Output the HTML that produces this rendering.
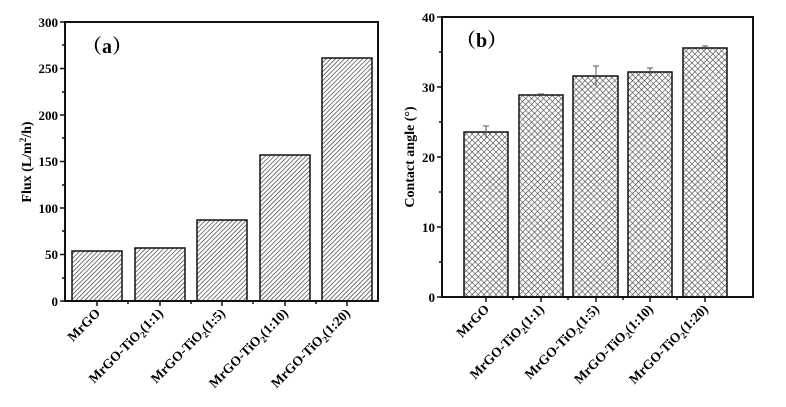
<!DOCTYPE html>
<html><head><meta charset="utf-8"><style>
html,body{margin:0;padding:0;background:#fff;}
svg{display:block;font-family:"Liberation Serif","Noto Serif CJK SC",serif;font-weight:bold;}
</style></head><body>
<svg width="786" height="407" viewBox="0 0 786 407" xmlns="http://www.w3.org/2000/svg">
<defs>
<pattern id="ha" patternUnits="userSpaceOnUse" width="3.2" height="3.2" patternTransform="rotate(45)">
<rect width="3.2" height="3.2" fill="#fff"/><line x1="0" y1="0" x2="0" y2="3.2" stroke="#333" stroke-width="1.3"/>
</pattern>
<pattern id="hb" patternUnits="userSpaceOnUse" width="4.2" height="4.2" patternTransform="rotate(45)">
<rect width="4.2" height="4.2" fill="#fff"/><line x1="0" y1="0" x2="0" y2="4.2" stroke="#444" stroke-width="1.2"/><line x1="0" y1="0" x2="4.2" y2="0" stroke="#444" stroke-width="1.2"/>
</pattern>
</defs>
<!-- Panel a -->
<g stroke="#111" stroke-width="1.5">
<rect x="72" y="251" width="50" height="50" fill="url(#ha)"/>
<rect x="135" y="248" width="50" height="53" fill="url(#ha)"/>
<rect x="197" y="220" width="50" height="81" fill="url(#ha)"/>
<rect x="260" y="155" width="50" height="146" fill="url(#ha)"/>
<rect x="322" y="58" width="50" height="243" fill="url(#ha)"/>
<rect x="65" y="22" width="313" height="279" fill="none" stroke-width="2"/>
<path d="M60 22H65M60 68.5H65M60 115H65M60 161.5H65M60 208H65M60 254.5H65M60 301H65
M62 45H65M62 92H65M62 138H65M62 185H65M62 231H65M62 278H65
M97 301V306M160 301V306M222 301V306M285 301V306M347 301V306
M128 301V304M191 301V304M253 301V304M316 301V304"/>
</g>
<g font-size="13" text-anchor="end">
<text x="58" y="27">300</text><text x="58" y="73">250</text><text x="58" y="120">200</text>
<text x="58" y="166">150</text><text x="58" y="213">100</text><text x="58" y="259">50</text><text x="58" y="306">0</text>
</g>
<text x="82" y="53" font-size="20">（a）</text>
<text transform="translate(31,162) rotate(-90)" font-size="14" text-anchor="middle">Flux (L/m<tspan font-size="9" dy="-5">2</tspan><tspan dy="5">/h)</tspan></text>
<g font-size="13.5" text-anchor="end">
<text transform="translate(101,314) rotate(-45)">MrGO</text>
<text transform="translate(164,314) rotate(-45)">MrGO-TiO<tspan font-size="9" dy="3">2</tspan><tspan dy="-3">(1:1)</tspan></text>
<text transform="translate(226,314) rotate(-45)">MrGO-TiO<tspan font-size="9" dy="3">2</tspan><tspan dy="-3">(1:5)</tspan></text>
<text transform="translate(289,314) rotate(-45)">MrGO-TiO<tspan font-size="9" dy="3">2</tspan><tspan dy="-3">(1:10)</tspan></text>
<text transform="translate(351,314) rotate(-45)">MrGO-TiO<tspan font-size="9" dy="3">2</tspan><tspan dy="-3">(1:20)</tspan></text>
</g>
<!-- Panel b -->
<g stroke="#111" stroke-width="1.5">
<rect x="464" y="132" width="44" height="165" fill="url(#hb)"/>
<rect x="519" y="95" width="44" height="202" fill="url(#hb)"/>
<rect x="573" y="76" width="45" height="221" fill="url(#hb)"/>
<rect x="628" y="72" width="44" height="225" fill="url(#hb)"/>
<rect x="683" y="48" width="44" height="249" fill="url(#hb)"/>
<rect x="442" y="17" width="311" height="280" fill="none" stroke-width="2"/>
<path d="M437 17H442M437 87H442M437 157H442M437 227H442M437 297H442
M439 52H442M439 122H442M439 192H442M439 262H442
M486 297V302M541 297V302M596 297V302M650 297V302M705 297V302
M513 297V300M568 297V300M623 297V300M677 297V300"/>
</g>
<g stroke="#555" stroke-width="1">
<path d="M486 126V138M483 126H489"/>
<path d="M541 94V96M538 94H544"/>
<path d="M596 66V86M593 66H599"/>
<path d="M650 68V76M647 68H653"/>
<path d="M705 46V50M702 46H708"/>
</g>
<g font-size="13" text-anchor="end">
<text x="435" y="22">40</text><text x="435" y="92">30</text><text x="435" y="162">20</text>
<text x="435" y="232">10</text><text x="435" y="302">0</text>
</g>
<text x="456" y="47" font-size="20">（b）</text>
<text transform="translate(414,157) rotate(-90)" font-size="14" text-anchor="middle">Contact angle (°)</text>
<g font-size="13.5" text-anchor="end">
<text transform="translate(490,310) rotate(-45)">MrGO</text>
<text transform="translate(545,310) rotate(-45)">MrGO-TiO<tspan font-size="9" dy="3">2</tspan><tspan dy="-3">(1:1)</tspan></text>
<text transform="translate(600,310) rotate(-45)">MrGO-TiO<tspan font-size="9" dy="3">2</tspan><tspan dy="-3">(1:5)</tspan></text>
<text transform="translate(654,310) rotate(-45)">MrGO-TiO<tspan font-size="9" dy="3">2</tspan><tspan dy="-3">(1:10)</tspan></text>
<text transform="translate(709,310) rotate(-45)">MrGO-TiO<tspan font-size="9" dy="3">2</tspan><tspan dy="-3">(1:20)</tspan></text>
</g>
</svg>
</body></html>
